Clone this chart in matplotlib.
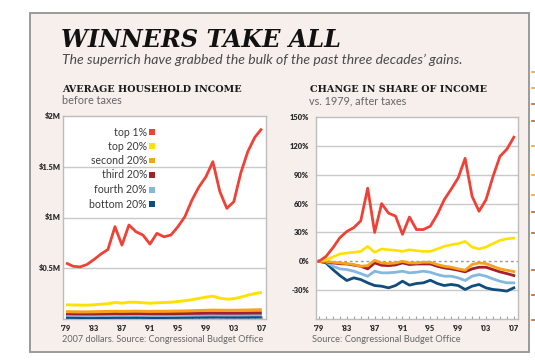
import matplotlib
matplotlib.use("Agg")
import matplotlib.pyplot as plt
from matplotlib.patches import Rectangle
from matplotlib.lines import Line2D
from matplotlib.ticker import MultipleLocator

# ---------------- data ----------------
years = list(range(1979, 2008))

# Average household income before taxes (millions of 2007 dollars)
inc_top1 = [0.552, 0.520, 0.513, 0.537, 0.586, 0.640, 0.685, 0.910, 0.728, 0.926,
            0.860, 0.827, 0.738, 0.844, 0.810, 0.827, 0.909, 1.008, 1.170, 1.300,
            1.400, 1.550, 1.255, 1.090, 1.156, 1.440, 1.650, 1.790, 1.876]
inc_top20 = [0.140, 0.138, 0.137, 0.136, 0.140, 0.146, 0.150, 0.163, 0.156, 0.165,
             0.165, 0.160, 0.155, 0.160, 0.162, 0.165, 0.172, 0.180, 0.190, 0.203,
             0.215, 0.225, 0.205, 0.195, 0.200, 0.215, 0.235, 0.250, 0.262]
inc_second = [0.072, 0.071, 0.070, 0.070, 0.071, 0.073, 0.074, 0.076, 0.075, 0.076,
              0.077, 0.076, 0.075, 0.076, 0.076, 0.077, 0.078, 0.079, 0.081, 0.083,
              0.085, 0.087, 0.086, 0.085, 0.086, 0.087, 0.088, 0.090, 0.091]
inc_third = [0.053, 0.052, 0.051, 0.051, 0.051, 0.052, 0.053, 0.054, 0.053, 0.054,
             0.055, 0.054, 0.053, 0.053, 0.053, 0.053, 0.054, 0.055, 0.056, 0.057,
             0.058, 0.059, 0.058, 0.058, 0.058, 0.058, 0.059, 0.060, 0.060]
inc_fourth = [0.037, 0.036, 0.035, 0.034, 0.034, 0.035, 0.035, 0.036, 0.036, 0.036,
              0.037, 0.036, 0.035, 0.035, 0.035, 0.035, 0.036, 0.037, 0.038, 0.039,
              0.040, 0.041, 0.040, 0.040, 0.040, 0.040, 0.041, 0.042, 0.042]
inc_bottom = [0.016, 0.016, 0.015, 0.015, 0.015, 0.015, 0.015, 0.016, 0.016, 0.016,
              0.016, 0.016, 0.015, 0.015, 0.015, 0.016, 0.016, 0.017, 0.017, 0.018,
              0.018, 0.019, 0.019, 0.018, 0.018, 0.018, 0.018, 0.019, 0.019]

# Change in share of after-tax income vs. 1979 (%)
sh_top1 = [0, 5, 14, 24.5, 31, 35, 42, 76, 30, 60,
           50, 47, 28, 46, 33, 33, 36.5, 48.6, 64, 75,
           86.6, 107, 67.6, 52, 64, 88, 109, 116.5, 129]
sh_top20 = [0, 1.7, 4.5, 7.6, 8.6, 9.3, 10.3, 15.5, 9.3, 12.8,
            12, 11.4, 10.3, 12, 11, 10.3, 10.3, 12.8, 15.5, 17.2,
            18.3, 20.7, 14.8, 12.8, 14.8, 18.3, 21.7, 23.4, 24.1]
sh_second = [0, 0, -1, -1.7, -2.4, -3.4, -5.2, -4.5, 1, -1.7,
             -2.4, -1.7, 0, -1.7, -1.7, -1, -1, -3.4, -5.2, -6.2,
             -7.9, -9.3, -3.4, -1.7, -2.4, -5.2, -7.9, -9.3, -10.7]
sh_third = [0, -0.5, -1.7, -2.5, -2.8, -4, -5.2, -7.9, -1.7, -4.1,
            -4.5, -3.8, -1.7, -3.4, -2.8, -2.8, -2.8, -5.2, -6.9, -7.9,
            -9.3, -11, -7.9, -6.2, -6.2, -8.6, -11, -12.8, -14.8]
sh_fourth = [0, -0.7, -5.2, -7.9, -8.6, -10.3, -12.8, -15.5, -10.3, -12,
             -12, -11.4, -10.3, -12, -11.4, -10.3, -11.4, -13.8, -15.5, -15.5,
             -17.2, -20, -15.5, -13.8, -15.5, -18.3, -20.7, -22.4, -22.4]
sh_bottom = [0, -1.7, -8.6, -14.8, -20, -17.2, -19, -22.4, -25.2, -25.9,
             -27.6, -25.2, -20.7, -24.8, -23.1, -22.4, -19.7, -23.1, -25.2, -24.1,
             -25.2, -29.3, -25.9, -24.1, -27.6, -29.3, -30, -31, -27.6]

series_names = ["top 1%", "top 20%", "second 20%", "third 20%", "fourth 20%", "bottom 20%"]
series_colors = ["#ef4136", "#ffe100", "#f7a21b", "#a3202d", "#84b8de", "#104c7c"]

xtick_years = [1979, 1983, 1987, 1991, 1995, 1999, 2003, 2007]
xtick_labels = ["'79", "'83", "'87", "'91", "'95", "'99", "'03", "'07"]
left_yticks = [0.5, 1.0, 1.5, 2.0]
left_ylabels = ["$0.5M", "$1M", "$1.5M", "$2M"]
right_yticks = [-30, 0, 30, 60, 90, 120, 150]
right_ylabels = ["-30%", "0%", "30%", "60%", "90%", "120%", "150%"]

# ---------------- figure ----------------
W, H = 535, 363
fig = plt.figure(figsize=(W / 100, H / 100), dpi=100, facecolor="white")

def fx(x):
    return x / W

def fy(y):
    return 1 - y / H

panel_bg = "#f6efec"
fig.patches.append(Rectangle((fx(30), fy(352)), fx(529) - fx(30), fy(13) - fy(352),
                             transform=fig.transFigure, facecolor=panel_bg,
                             edgecolor="#9a9a9a", linewidth=1.4, zorder=-10))

# stray marks at the right edge
for yy, cc in [(72, "#f5a623"), (88, "#f5a623"), (104, "#c0602a"), (121, "#c0602a"),
               (146, "#f5a623"), (175, "#f5a623"), (195, "#f5a623"), (212, "#c0602a"),
               (233, "#c0602a"), (270, "#c0602a"), (295, "#c0602a"), (320, "#c0602a")]:
    fig.lines.append(Line2D([fx(532), fx(535)], [fy(yy), fy(yy)], transform=fig.transFigure,
                            color=cc, linewidth=1.2))

grid_c = "#c9c9c9"
spine_c = "#bdbdbd"
tick_font = dict(family="Lato", weight="heavy", size=5.4, color="#2a2a2a")

def style_axes(ax, ylim, yticks, ylabels, ypad):
    ax.set_zorder(2)
    ax.set_facecolor("white")
    ax.set_xlim(1978.57, 2007.6)
    ax.set_ylim(*ylim)
    for s in ax.spines.values():
        s.set_color(spine_c)
        s.set_linewidth(1.0)
    ax.set_xticks(xtick_years)
    ax.set_xticklabels(xtick_labels, fontdict=tick_font)
    ax.xaxis.set_minor_locator(MultipleLocator(1))
    ax.tick_params(axis="x", which="both", direction="in", length=2.5, color="#a0a0a0",
                   width=0.8, pad=4)
    ax.set_yticks(yticks)
    ax.set_yticklabels(ylabels, fontdict=tick_font)
    ax.tick_params(axis="y", length=0, pad=ypad)

# left axes
axL = fig.add_axes([fx(63), fy(319), fx(266) - fx(63), fy(116) - fy(319)])
style_axes(axL, (0, 2.0), left_yticks, left_ylabels, 1.5)
for v in [0.5, 1.0, 1.5]:
    axL.axhline(v, color=grid_c, linewidth=1.0, zorder=1)
left_series = [inc_top1, inc_top20, inc_second, inc_third, inc_fourth, inc_bottom]
for vals, c, lw in zip(left_series[::-1], series_colors[::-1], [2.2, 2.2, 2.2, 2.2, 2.1, 2.0]):
    axL.plot(years, vals, color=c, linewidth=lw, solid_capstyle="butt", zorder=3)

# right axes
axR = fig.add_axes([fx(316), fy(319), fx(518) - fx(316), fy(117) - fy(319)])
style_axes(axR, (-60, 150), right_yticks, right_ylabels, 5)
for v in [-30, 30, 60, 90, 120]:
    axR.axhline(v, color=grid_c, linewidth=1.0, zorder=1)
axR.axhline(0, color="#9a9a9a", linewidth=1.0, linestyle=(0, (2, 2)), zorder=1)
right_series = [sh_top1, sh_top20, sh_second, sh_third, sh_fourth, sh_bottom]
for vals, c, lw in zip(right_series[::-1], series_colors[::-1], [2.0, 2.0, 2.0, 2.0, 1.9, 2.0]):
    axR.plot(years, vals, color=c, linewidth=lw, zorder=3)

# legend (manual, inside left panel)
leg_y = [132, 146, 160.5, 175, 189.5, 204]
for name, c, yy in zip(series_names, series_colors, leg_y):
    fig.text(fx(147), fy(yy), name, ha="right", va="center", family="Lato",
             size=7.6, color="#3a3a3a", zorder=10)
    fig.patches.append(Rectangle((fx(149), fy(yy + 3)), fx(6), fy(0) - fy(6),
                                 transform=fig.transFigure, facecolor=c,
                                 edgecolor="none", zorder=10))

# titles
fig.text(fx(61), fy(40), "WINNERS TAKE ALL", family="DejaVu Serif", weight="bold",
         style="italic", size=17.2, color="#111111", va="center", ha="left")
fig.text(fx(62), fy(60), "The superrich have grabbed the bulk of the past three decades\u2019 gains.",
         family="Lato", style="italic", size=10.1, color="#4a4a4a", va="center", ha="left")

fig.text(fx(62), fy(90), "AVERAGE HOUSEHOLD INCOME", family="DejaVu Serif", weight="bold",
         size=6.9, color="#1a1a1a", va="center", ha="left")
fig.text(fx(62), fy(101), "before taxes", family="Lato", size=7.8, color="#666666",
         va="center", ha="left")
fig.text(fx(310), fy(90), "CHANGE IN SHARE OF INCOME", family="DejaVu Serif", weight="bold",
         size=6.9, color="#1a1a1a", va="center", ha="left")
fig.text(fx(309), fy(101), "vs. 1979, after taxes", family="Lato", size=7.8, color="#666666",
         va="center", ha="left")

fig.text(fx(62), fy(340), "2007 dollars. Source: Congressional Budget Office", family="Lato",
         size=6.6, color="#666666", va="center", ha="left")
fig.text(fx(312), fy(340), "Source: Congressional Budget Office", family="Lato",
         size=6.7, color="#666666", va="center", ha="left")

fig.savefig("out.png", dpi=100, facecolor="white")
